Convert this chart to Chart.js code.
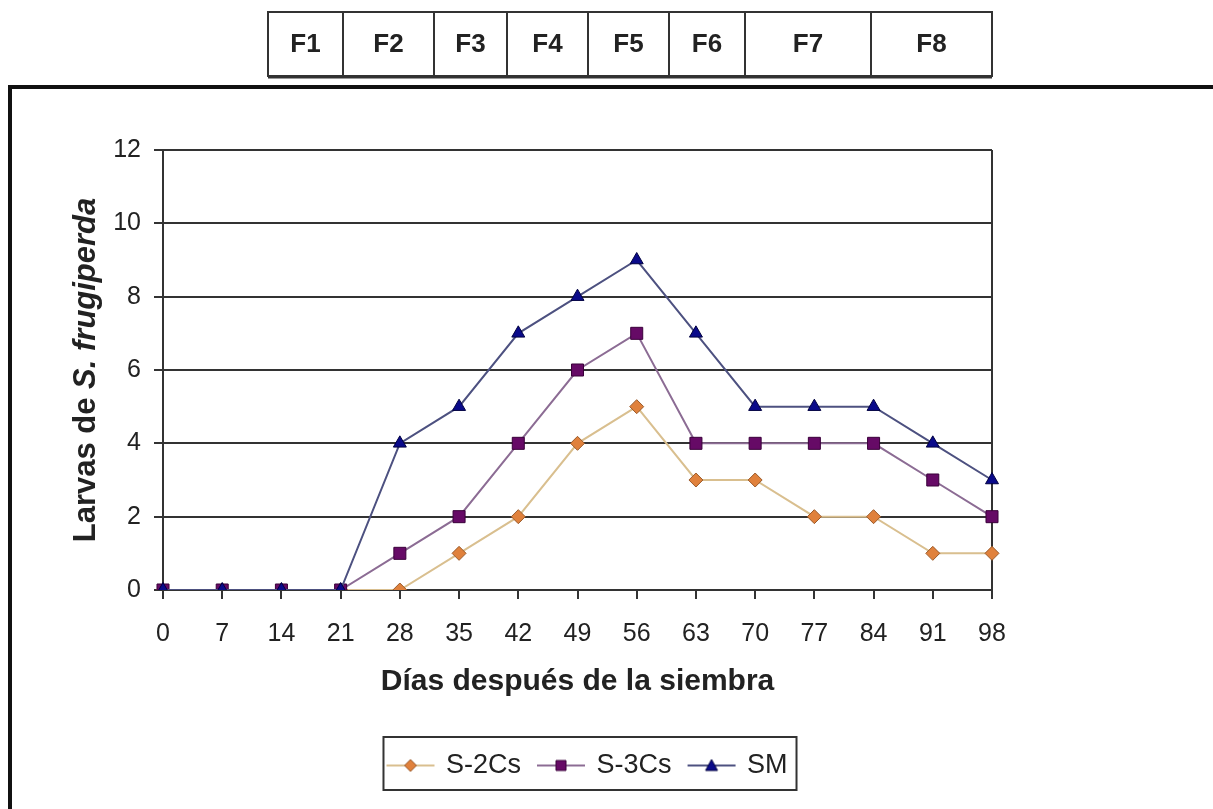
<!DOCTYPE html>
<html>
<head>
<meta charset="utf-8">
<script src="https://cdn.jsdelivr.net/npm/chart.js@4"></script>
<style>
  html, body { margin: 0; padding: 0; background: #fff; }
  #chart { display: block; }
</style>
</head>
<body>
<canvas id="chart" width="1213" height="809"></canvas>
<script>
// Data
const days = ['0', '7', '14', '21', '28', '35', '42', '49', '56', '63', '70', '77', '84', '91', '98'];
const s2Cs = [0, 0, 0, 0, 0, 1, 2, 4, 5, 3, 3, 2, 2, 1, 1];
const s3Cs = [0, 0, 0, 0, 1, 2, 4, 6, 7, 4, 4, 4, 4, 3, 2];
const sm   = [0, 0, 0, 0, 4, 5, 7, 8, 9, 7, 5, 5, 5, 4, 3];
const seriesNames = ['S-2Cs', 'S-3Cs', 'SM'];
const phases = ['F1', 'F2', 'F3', 'F4', 'F5', 'F6', 'F7', 'F8'];

const FONT = 'Arial, "Liberation Sans", sans-serif';
const TEXT = '#222';
const AXIS = '#333';

// Phase strip edges (page layout, px)
const phaseEdges = [268, 343, 434, 507, 588, 669, 745, 871, 992];
const legendCenter = 590;

// Small legend swatch: line with the marker in the middle
function makeSwatch(line, fill, border, shape) {
    const c = document.createElement('canvas');
    c.width = 52; c.height = 20;
    const g = c.getContext('2d');
    g.strokeStyle = line; g.lineWidth = 2;
    g.beginPath(); g.moveTo(2, 10); g.lineTo(50, 10); g.stroke();
    g.fillStyle = fill; g.strokeStyle = border; g.lineWidth = 1;
    g.beginPath();
    if (shape === 'diamond') {
        g.moveTo(26, 4); g.lineTo(32, 10); g.lineTo(26, 16); g.lineTo(20, 10); g.closePath();
    } else if (shape === 'square') {
        g.rect(21, 5, 10, 10);
    } else {
        g.moveTo(26, 4); g.lineTo(32, 15); g.lineTo(20, 15); g.closePath();
    }
    g.fill(); g.stroke();
    return c;
}
const swatches = [
    makeSwatch('#d9bf8f', '#e0813c', '#9a5a2a', 'diamond'),
    makeSwatch('#8c6c94', '#660a66', '#3a003a', 'square'),
    makeSwatch('#4d5180', '#0a0a8a', '#000040', 'triangle')
];

// Frame, phase strip, y title, right border, legend box
const decor = {
    id: 'decor',
    afterLayout(chart) {
        const lg = chart.legend;
        const dx = legendCenter - 2 - (lg.left + lg.right) / 2;
        lg.left += dx;
        lg.right += dx;
    },
    beforeDraw(chart) {
        const ctx = chart.ctx;
        ctx.save();
        // outer frame
        ctx.strokeStyle = '#111';
        ctx.lineWidth = 4;
        ctx.beginPath();
        ctx.moveTo(10, 809); ctx.lineTo(10, 87); ctx.lineTo(1213, 87);
        ctx.stroke();
        // phase strip
        const top = 12, bot = 76;
        ctx.strokeStyle = '#333';
        ctx.lineWidth = 2;
        ctx.strokeRect(phaseEdges[0], top, phaseEdges[phaseEdges.length - 1] - phaseEdges[0], bot - top);
        ctx.beginPath();
        ctx.moveTo(phaseEdges[0], bot + 1.5); ctx.lineTo(phaseEdges[phaseEdges.length - 1], bot + 1.5);
        ctx.stroke();
        ctx.font = 'bold 26px ' + FONT;
        ctx.fillStyle = TEXT;
        ctx.textAlign = 'center';
        ctx.textBaseline = 'middle';
        for (let i = 0; i < phases.length; i++) {
            ctx.beginPath();
            ctx.moveTo(phaseEdges[i], top); ctx.lineTo(phaseEdges[i], bot);
            ctx.stroke();
            ctx.fillText(phases[i], (phaseEdges[i] + phaseEdges[i + 1]) / 2, (top + bot) / 2 + 1);
        }
        ctx.restore();
    },
    beforeDatasetsDraw(chart) {
        const {ctx, chartArea: a} = chart;
        ctx.save();
        // right border of plot
        ctx.strokeStyle = AXIS;
        ctx.lineWidth = 2;
        ctx.beginPath();
        ctx.moveTo(a.right, a.top); ctx.lineTo(a.right, a.bottom);
        ctx.stroke();
        // y title with italic species name
        const parts = [['Larvas de ', 'bold 31px ' + FONT], ['S. frugiperda', 'italic bold 31px ' + FONT]];
        let total = 0;
        parts.forEach(p => { ctx.font = p[1]; total += ctx.measureText(p[0]).width; });
        ctx.translate(86, (a.top + a.bottom) / 2);
        ctx.rotate(-Math.PI / 2);
        ctx.fillStyle = TEXT;
        ctx.textBaseline = 'middle';
        ctx.textAlign = 'left';
        let x = -total / 2;
        parts.forEach(p => { ctx.font = p[1]; ctx.fillText(p[0], x, 0); x += ctx.measureText(p[0]).width; });
        ctx.restore();
    },
    afterDraw(chart) {
        const boxes = chart.legend.legendHitBoxes;
        if (!boxes || !boxes.length) return;
        let l = Infinity, r = -Infinity, t = Infinity, b = -Infinity;
        boxes.forEach(h => {
            l = Math.min(l, h.left); r = Math.max(r, h.left + h.width);
            t = Math.min(t, h.top); b = Math.max(b, h.top + h.height);
        });
        const ctx = chart.ctx;
        ctx.save();
        ctx.strokeStyle = '#333';
        ctx.lineWidth = 2;
        ctx.strokeRect(l - 5, t - 15, r - l + 14, b - t + 26);
        ctx.restore();
    }
};

const ctx = document.getElementById('chart').getContext('2d');
const chart = new Chart(ctx, {
    type: 'line',
    data: {
        labels: days,
        datasets: [{
            label: seriesNames[0],
            data: s2Cs,
            borderColor: '#d9bf8f',
            borderWidth: 2,
            pointStyle: 'rectRot',
            pointRadius: 7,
            pointBackgroundColor: '#e0813c',
            pointBorderColor: '#9a5a2a',
            pointBorderWidth: 1,
            tension: 0,
            order: 2
        }, {
            label: seriesNames[1],
            data: s3Cs,
            borderColor: '#8c6c94',
            borderWidth: 2,
            pointStyle: 'rect',
            pointRadius: 8.5,
            pointBackgroundColor: '#660a66',
            pointBorderColor: '#3a003a',
            pointBorderWidth: 1,
            tension: 0,
            order: 1
        }, {
            label: seriesNames[2],
            data: sm,
            borderColor: '#4d5180',
            borderWidth: 2,
            pointStyle: 'triangle',
            pointRadius: 7.5,
            pointBackgroundColor: '#0a0a8a',
            pointBorderColor: '#000040',
            pointBorderWidth: 1,
            tension: 0,
            order: 0
        }]
    },
    options: {
        responsive: false,
        devicePixelRatio: 1,
        animation: false,
        layout: {
            padding: { top: 150, right: 221, bottom: 20, left: 0 }
        },
        plugins: {
            tooltip: { enabled: false },
            legend: {
                position: 'bottom',
                labels: {
                    usePointStyle: true,
                    pointStyleWidth: 44,
                    boxHeight: 20,
                    padding: 18,
                    color: TEXT,
                    font: { family: FONT, size: 27 },
                    sort: (a, b) => a.datasetIndex - b.datasetIndex,
                    generateLabels: (c) => {
                        const items = Chart.defaults.plugins.legend.labels.generateLabels(c);
                        items.forEach(it => { it.pointStyle = swatches[it.datasetIndex]; });
                        return items;
                    }
                }
            }
        },
        scales: {
            x: {
                type: 'category',
                offset: false,
                afterFit: s => { s.height = 144; },
                grid: { display: true, drawOnChartArea: false, tickLength: 9, color: AXIS, lineWidth: 2 },
                border: { display: true, color: AXIS, width: 2 },
                ticks: { color: TEXT, font: { family: FONT, size: 25 }, padding: 20, autoSkip: false, maxRotation: 0 },
                title: {
                    display: true,
                    text: 'Días después de la siembra',
                    color: TEXT,
                    font: { family: FONT, size: 30, weight: 'bold' },
                    padding: { top: 0, bottom: 34 }
                }
            },
            y: {
                min: 0,
                max: 12,
                afterFit: s => { s.width = 163; },
                grid: { color: AXIS, lineWidth: 2, tickLength: 9 },
                border: { display: true, color: AXIS, width: 2 },
                ticks: { stepSize: 2, color: TEXT, font: { family: FONT, size: 25 }, padding: 13 }
            }
        }
    },
    plugins: [decor]
});
</script>
</body>
</html>
